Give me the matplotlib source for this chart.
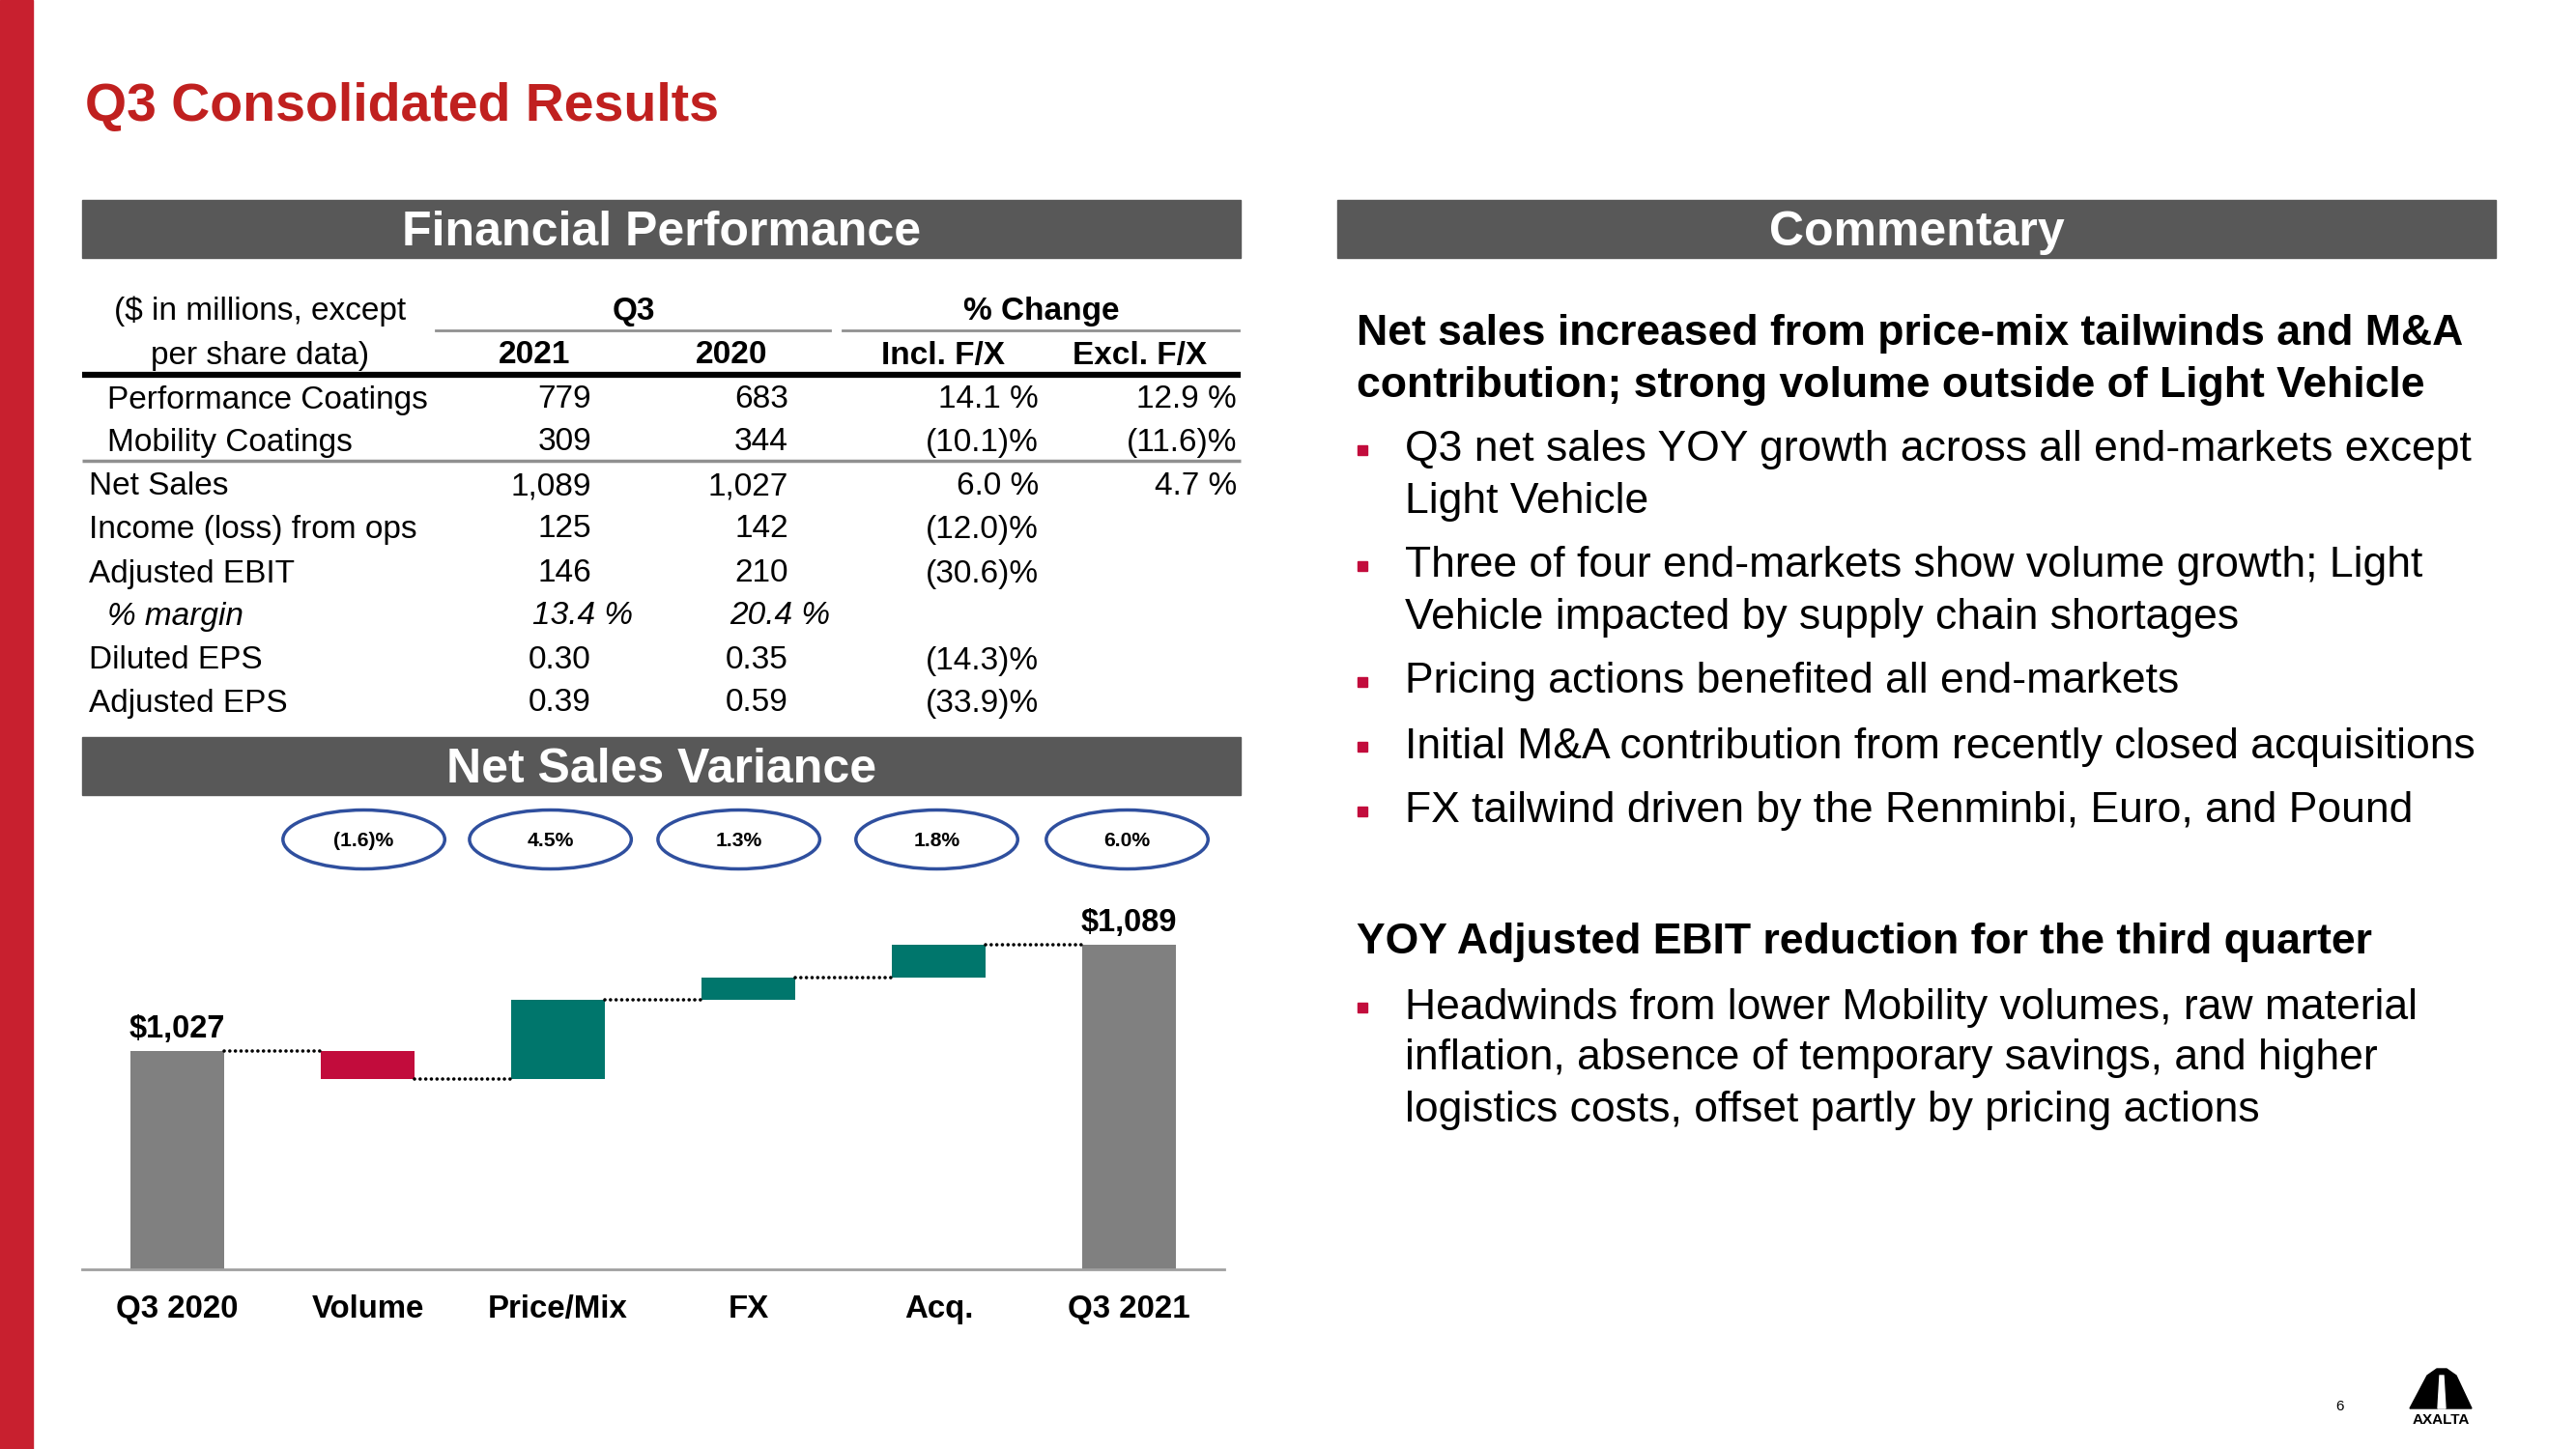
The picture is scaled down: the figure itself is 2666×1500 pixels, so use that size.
import matplotlib
matplotlib.use("Agg")
import matplotlib.pyplot as plt
from matplotlib.patches import Rectangle, Ellipse, Polygon
from matplotlib.transforms import blended_transform_factory

plt.rcParams['font.family'] = ['Liberation Sans', 'DejaVu Sans']

# ---- data ----
row_labels = ["Performance Coatings", "Mobility Coatings", "Net Sales",
              "Income (loss) from ops", "Adjusted EBIT", "% margin",
              "Diluted EPS", "Adjusted EPS"]
q3_2021 = ["779", "309", "1,089", "125", "146", "13.4 %", "0.30", "0.39"]
q3_2020 = ["683", "344", "1,027", "142", "210", "20.4 %", "0.35", "0.59"]
incl_fx = ["14.1 %", "(10.1)%", "6.0 %", "(12.0)%", "(30.6)%", "", "(14.3)%", "(33.9)%"]
excl_fx = ["12.9 %", "(11.6)%", "4.7 %", "", "", "", "", ""]

wf_categories = ["Q3 2020", "Volume", "Price/Mix", "FX", "Acq.", "Q3 2021"]
wf_start = 1027
wf_deltas = [-16, 46, 13, 19]
wf_end = 1089
wf_pct = ["(1.6)%", "4.5%", "1.3%", "1.8%", "6.0%"]

commentary_head1 = ["Net sales increased from price-mix tailwinds and M&A",
                    "contribution; strong volume outside of Light Vehicle"]
bullets1 = [["Q3 net sales YOY growth across all end-markets except", "Light Vehicle"],
            ["Three of four end-markets show volume growth; Light",
             "Vehicle impacted by supply chain shortages"],
            ["Pricing actions benefited all end-markets"],
            ["Initial M&A contribution from recently closed acquisitions"],
            ["FX tailwind driven by the Renminbi, Euro, and Pound"]]
commentary_head2 = "YOY Adjusted EBIT reduction for the third quarter"
bullets2 = [["Headwinds from lower Mobility volumes, raw material",
             "inflation, absence of temporary savings, and higher",
             "logistics costs, offset partly by pricing actions"]]

RED = "#C8202F"
HEAD_GRAY = "#585858"
TEAL = "#00766C"
CRIMSON = "#C20C3C"
BAR_GRAY = "#808080"
BLUE = "#2F4F9E"

W, H = 2666, 1500
DY = 4  # small downward nudge for text centred with va="center"
fig = plt.figure(figsize=(W / 100, H / 100), dpi=100)
bg = fig.add_axes([0, 0, 1, 1])
bg.set_xlim(0, W)
bg.set_ylim(H, 0)
bg.axis("off")


def txt(x, y, s, **kw):
    kw.setdefault("va", "center")
    bg.text(x, y + DY, s, **kw)


# left red stripe and title
bg.add_patch(Rectangle((0, 0), 34, H, color=RED))
txt(88, 107, "Q3 Consolidated Results", color="#C0201F", fontsize=40,
    fontweight="bold", ha="left")


def header(x0, x1, y0, y1, label):
    bg.add_patch(Rectangle((x0, y0), x1 - x0, y1 - y0, color=HEAD_GRAY))
    txt((x0 + x1) / 2, (y0 + y1) / 2, label, color="white", fontsize=36,
        fontweight="bold", ha="center")


header(85, 1284, 207, 267, "Financial Performance")
header(1384, 2583, 207, 267, "Commentary")
header(85, 1284, 763, 823, "Net Sales Variance")

# ---- table ----
fs = 24
txt(269, 318, "($ in millions, except", fontsize=fs, ha="center")
txt(269, 364, "per share data)", fontsize=fs, ha="center")
txt(656, 318, "Q3", fontsize=fs, fontweight="bold", ha="center")
txt(1078, 318, "% Change", fontsize=fs, fontweight="bold", ha="center")
bg.plot([451, 859], [342, 342], color="#909090", lw=2)
bg.plot([872, 1282], [342, 342], color="#909090", lw=2)
for x, s in zip([553, 757, 976, 1180], ["2021", "2020", "Incl. F/X", "Excl. F/X"]):
    txt(x, 364, s, fontsize=fs, fontweight="bold", ha="center")
bg.plot([85, 1284], [388, 388], color="black", lw=4.5, solid_capstyle="butt")
bg.plot([85, 1284], [477, 477], color="#909090", lw=2.5, solid_capstyle="butt")

row_y = [410, 454, 500, 544, 590, 634, 680, 724]
for i, lab in enumerate(row_labels):
    y = row_y[i]
    italic = lab == "% margin"
    lx = 111 if (i < 2 or italic) else 92
    style = "italic" if italic else "normal"
    txt(lx, y, lab, fontsize=fs, ha="left", style=style)
    r1, r2 = (655, 859) if italic else (612, 816)
    txt(r1, y, q3_2021[i], fontsize=fs, ha="right", style=style)
    txt(r2, y, q3_2020[i], fontsize=fs, ha="right", style=style)
    txt(1075, y, incl_fx[i], fontsize=fs, ha="right")
    txt(1280, y, excl_fx[i], fontsize=fs, ha="right")

# ---- waterfall ----
ax_l, ax_r, ax_top, ax_bot = 85, 1267, 918, 1314
ax = fig.add_axes([ax_l / W, 1 - ax_bot / H, (ax_r - ax_l) / W, (ax_bot - ax_top) / H])
ax.patch.set_alpha(0)
ax.set_xlim(-0.5, 5.5)
ax.set_ylim(900, 1123)
for sp in ["top", "right", "left"]:
    ax.spines[sp].set_visible(False)
ax.spines["bottom"].set_color("#A0A0A0")
ax.spines["bottom"].set_linewidth(2)
ax.set_yticks([])
ax.set_xticks(range(len(wf_categories)))
ax.set_xticklabels(wf_categories, fontsize=23.8, fontweight="bold")
ax.tick_params(axis="x", length=0, pad=19)

bw = 0.49
ax.bar(0, wf_start - 900, bottom=900, width=bw, color=BAR_GRAY)
ax.bar(5, wf_end - 900, bottom=900, width=bw, color=BAR_GRAY)
level = wf_start
levels = [wf_start]
for k, d in enumerate(wf_deltas):
    lo = min(level, level + d)
    ax.bar(k + 1, abs(d), bottom=lo, width=bw, color=CRIMSON if d < 0 else TEAL)
    level += d
    levels.append(level)
levels.append(wf_end)
for k in range(5):
    ax.plot([k + bw / 2, k + 1 - bw / 2], [levels[k], levels[k]], color="black",
            lw=2.6, linestyle=(0, (0.01, 1.6)), dash_capstyle="round")

ax.text(0, wf_start + 4, "${:,}".format(wf_start), fontsize=23.5, fontweight="bold",
        ha="center", va="bottom")
ax.text(5, wf_end + 4, "${:,}".format(wf_end), fontsize=23.5, fontweight="bold",
        ha="center", va="bottom")

tr = blended_transform_factory(ax.transData, ax.transAxes)
ell_y = 1 + (ax_top - 869) / (ax_bot - ax_top)
ell_h = 61 / (ax_bot - ax_top)
ell_x = [0.98, 1.96, 2.95, 3.99, 4.99]
for k, p in enumerate(wf_pct):
    ax.add_patch(Ellipse((ell_x[k], ell_y), 0.85, ell_h, transform=tr, fill=False,
                         edgecolor=BLUE, lw=2.5, clip_on=False))
    ax.text(ell_x[k], ell_y - 0.004, p, transform=tr, fontsize=15.2, fontweight="bold",
            ha="center", va="center")

# ---- commentary ----
cfs = 32
y = 342
for line in commentary_head1:
    txt(1404, y, line, fontsize=cfs, fontweight="bold", ha="left")
    y += 53
y = 462
for b in bullets1:
    bg.add_patch(Rectangle((1405, y - 5 + DY), 10, 10, color=CRIMSON))
    for line in b:
        txt(1454, y, line, fontsize=cfs, ha="left")
        y += 53
    y += 14
y = 972
txt(1404, y, commentary_head2, fontsize=cfs, fontweight="bold", ha="left")
y = 1039
for b in bullets2:
    bg.add_patch(Rectangle((1405, y - 5 + DY), 10, 10, color=CRIMSON))
    for line in b:
        txt(1454, y, line, fontsize=cfs, ha="left")
        y += 53

# ---- page number and logo ----
txt(2421, 1452, "6", fontsize=11, ha="center")
bg.add_patch(Polygon([[2494, 1458], [2512, 1424], [2522, 1417], [2532, 1417],
                      [2542, 1424], [2558, 1458]], closed=True, color="black"))
bg.add_patch(Polygon([[2523, 1458], [2525, 1424], [2529, 1424], [2531, 1458]],
                     closed=True, color="white"))
txt(2526, 1466, "AXALTA", fontsize=11, fontweight="bold", ha="center")

fig.savefig("out.png", dpi=100)
